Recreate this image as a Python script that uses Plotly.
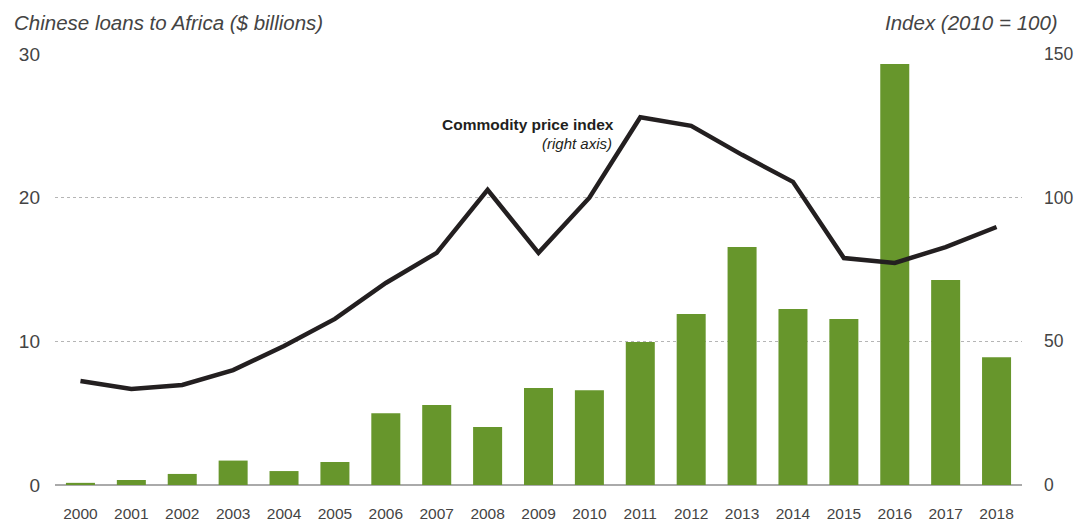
import plotly.graph_objects as go

# data
years = [str(y) for y in range(2000, 2019)]
loans = [0.15, 0.35, 0.77, 1.7, 0.97, 1.6, 5.0, 5.57, 4.04, 6.75, 6.6,
         9.95, 11.9, 16.56, 12.25, 11.55, 29.3, 14.27, 8.9]
price_index = [36.2, 33.4, 34.8, 40.0, 48.4, 57.8, 70.3, 80.8, 102.7, 80.8, 100.0,
               128.0, 125.0, 114.9, 105.5, 79.0, 77.3, 82.8, 89.8]
left_ticks = [0, 10, 20, 30]
right_ticks = [0, 50, 100, 150]

font_family = "Liberation Sans, Arial, sans-serif"
tick_color = '#444444'

fig = go.Figure()

fig.add_trace(go.Bar(
    x = years, y = loans, marker = dict(color = '#67962c', line = dict(width = 0)),
    width = 0.57, yaxis = 'y', showlegend = False
))

fig.add_trace(go.Scatter(
    x = years, y = price_index, mode = 'lines',
    line = dict(color = '#231f20', width = 4.5),
    yaxis = 'y2', showlegend = False
))

fig.update_layout(
    width = 1076, height = 521,
    margin = dict(l = 55, r = 54, t = 54, b = 36),
    plot_bgcolor = 'white', paper_bgcolor = 'white',
    font = dict(family = font_family, color = tick_color),
    xaxis = dict(
        type = 'category', showgrid = False, showline = False, ticks = '',
        automargin = False, ticklabelstandoff = 17,
        tickfont = dict(size = 15.5, color = tick_color)
    ),
    yaxis = dict(
        range = [0, 30], tickvals = left_ticks, showgrid = True, automargin = False,
        gridcolor = '#b5b5b5', griddash = 'dot', gridwidth = 1,
        zeroline = True, zerolinecolor = '#aaaaaa', zerolinewidth = 1.5,
        tickfont = dict(size = 19, color = tick_color), ticklabelstandoff = 14
    ),
    yaxis2 = dict(
        range = [0, 150], tickvals = right_ticks, overlaying = 'y', side = 'right',
        showgrid = False, zeroline = False, automargin = False,
        tickfont = dict(size = 17.5, color = tick_color), ticklabelstandoff = 21
    ),
    annotations = [
        dict(text = 'Chinese loans to Africa ($ billions)', xref = 'paper', yref = 'paper',
             x = 0, y = 1, xshift = -43, yshift = 32, xanchor = 'left', yanchor = 'middle',
             showarrow = False,
             font = dict(size = 20.5, color = tick_color, family = font_family, style = 'italic')),
        dict(text = 'Index (2010 = 100)', xref = 'paper', yref = 'paper',
             x = 1, y = 1, xshift = 38, yshift = 32, xanchor = 'right', yanchor = 'middle',
             showarrow = False,
             font = dict(size = 20.5, color = tick_color, family = font_family, style = 'italic')),
        dict(text = '<b>Commodity price index</b>', xref = 'x', yref = 'y2',
             x = 10.53, y = 125.6, xanchor = 'right', yanchor = 'middle', showarrow = False,
             font = dict(size = 15.5, color = '#231f20', family = font_family)),
        dict(text = '<i>(right axis)</i>', xref = 'x', yref = 'y2',
             x = 10.49, y = 119.0, xanchor = 'right', yanchor = 'middle', showarrow = False,
             font = dict(size = 15, color = '#231f20', family = font_family)),
    ]
)

# drop the default page margin so the figure fills the window exactly
fig.write_html("out.html", config = {'displayModeBar': False},
               post_script = "document.body.style.margin = '0';")
